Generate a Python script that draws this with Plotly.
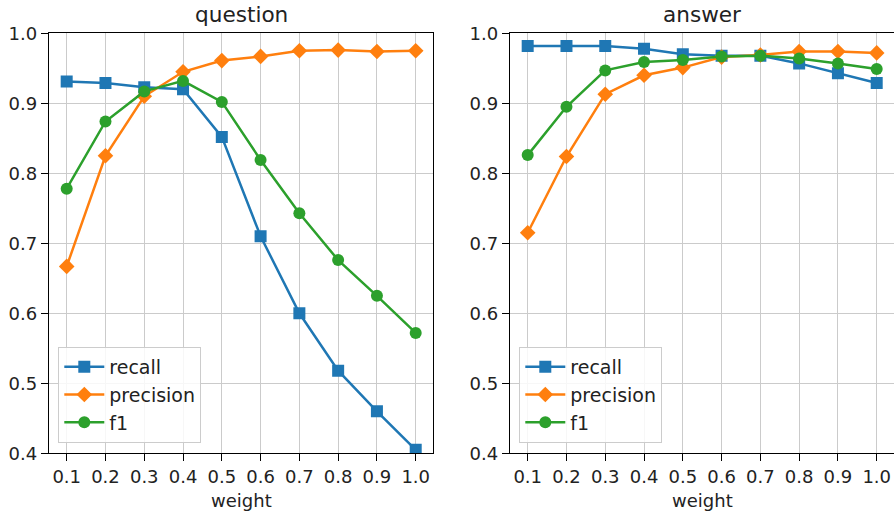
import plotly.graph_objects as go

weights = [0.1, 0.2, 0.3, 0.4, 0.5, 0.6, 0.7, 0.8, 0.9, 1.0]
tick_labels = ["0.1", "0.2", "0.3", "0.4", "0.5", "0.6", "0.7", "0.8", "0.9", "1.0"]

q_recall = [0.931, 0.929, 0.923, 0.920, 0.852, 0.710, 0.600, 0.518, 0.460, 0.405]
q_precision = [0.667, 0.825, 0.910, 0.945, 0.961, 0.967, 0.975, 0.976, 0.974, 0.975]
q_f1 = [0.778, 0.874, 0.917, 0.932, 0.902, 0.819, 0.743, 0.676, 0.625, 0.572]

a_recall = [0.982, 0.982, 0.982, 0.978, 0.970, 0.968, 0.968, 0.957, 0.943, 0.929]
a_precision = [0.715, 0.824, 0.913, 0.940, 0.951, 0.966, 0.969, 0.974, 0.974, 0.972]
a_f1 = [0.826, 0.895, 0.947, 0.959, 0.962, 0.967, 0.968, 0.964, 0.957, 0.949]

panel_titles = ["question", "answer"]
series_names = ["recall", "precision", "f1"]
colors = ["#1f77b4", "#ff7f0e", "#2ca02c"]
symbols = ["square", "diamond", "circle"]
sizes = [12, 12, 12]

W, H = 894, 515
FONT = "DejaVu Sans"

fig = go.Figure()

panels = [(q_recall, q_precision, q_f1), (a_recall, a_precision, a_f1)]
for p, data in enumerate(panels):
    xa = "x" if p == 0 else "x2"
    ya = "y" if p == 0 else "y2"
    lg = "legend" if p == 0 else "legend2"
    for s, vals in enumerate(data):
        fig.add_trace(go.Scatter(
            x=weights, y=vals, mode="lines+markers", name=series_names[s],
            xaxis=xa, yaxis=ya, legend=lg,
            line=dict(color=colors[s], width=2.5),
            marker=dict(symbol=symbols[s], size=sizes[s], color=colors[s], line=dict(width=0)),
        ))

y_dom = [1 - 453.3 / H, 1 - 33.3 / H]
x1_dom = [49 / W, 433 / W]
x2_dom = [510 / W, 1.0]
xr1 = [0.1 - (66.7 - 49) / 388, 1.0 + (433 - 415.7) / 388]
xr2 = [0.1 - (527.7 - 510) / 388, 1.0 + (W - 876.7) / 388]

axis_common = dict(
    showgrid=True, gridcolor="#cbcbcb", gridwidth=1.2,
    showline=True, linecolor="black", linewidth=1.3,
    ticks="outside", ticklen=7, tickwidth=1.3, tickcolor="black",
    tickfont=dict(family=FONT, size=18, color="#222222"),
    zeroline=False, automargin=False,
)

legend_common = dict(
    xanchor="left", yanchor="bottom",
    bgcolor="rgba(255,255,255,0.85)", bordercolor="#cccccc", borderwidth=1,
    font=dict(family=FONT, size=19, color="#222222"), itemwidth=40,
    entrywidth=110, entrywidthmode="pixels",
)

fig.update_layout(
    width=W, height=H,
    margin=dict(l=0, r=0, t=0, b=0, autoexpand=False),
    paper_bgcolor="white", plot_bgcolor="white",
    font=dict(family=FONT, size=18, color="#222222"),
    xaxis=dict(domain=x1_dom, range=xr1, tickvals=weights, ticktext=tick_labels,
               anchor="y", mirror=True, **axis_common),
    yaxis=dict(domain=y_dom, range=[0.4, 1.0], dtick=0.1, tickformat=".1f",
               anchor="x", mirror=True, **axis_common),
    xaxis2=dict(domain=x2_dom, range=xr2, tickvals=weights, ticktext=tick_labels,
                anchor="y2", mirror=True, **axis_common),
    yaxis2=dict(domain=y_dom, range=[0.4, 1.0], dtick=0.1, tickformat=".1f",
                anchor="x2", mirror=False, **axis_common),
    legend=dict(x=58.3 / W, y=1 - 443 / H, **legend_common),
    legend2=dict(x=519.3 / W, y=1 - 443 / H, **legend_common),
    showlegend=True,
)

centers = [(49 + 433) / 2 / W, (510 + 894) / 2 / W]
for p in range(2):
    fig.add_annotation(text=panel_titles[p], x=centers[p], y=1 - 15 / H,
                       xref="paper", yref="paper", xanchor="center", yanchor="middle",
                       showarrow=False, font=dict(family=FONT, size=21.6, color="#222222"))
    fig.add_annotation(text="weight", x=centers[p], y=1 - 500 / H,
                       xref="paper", yref="paper", xanchor="center", yanchor="middle",
                       showarrow=False, font=dict(family=FONT, size=18, color="#222222"))

fig.write_html("out.html")
